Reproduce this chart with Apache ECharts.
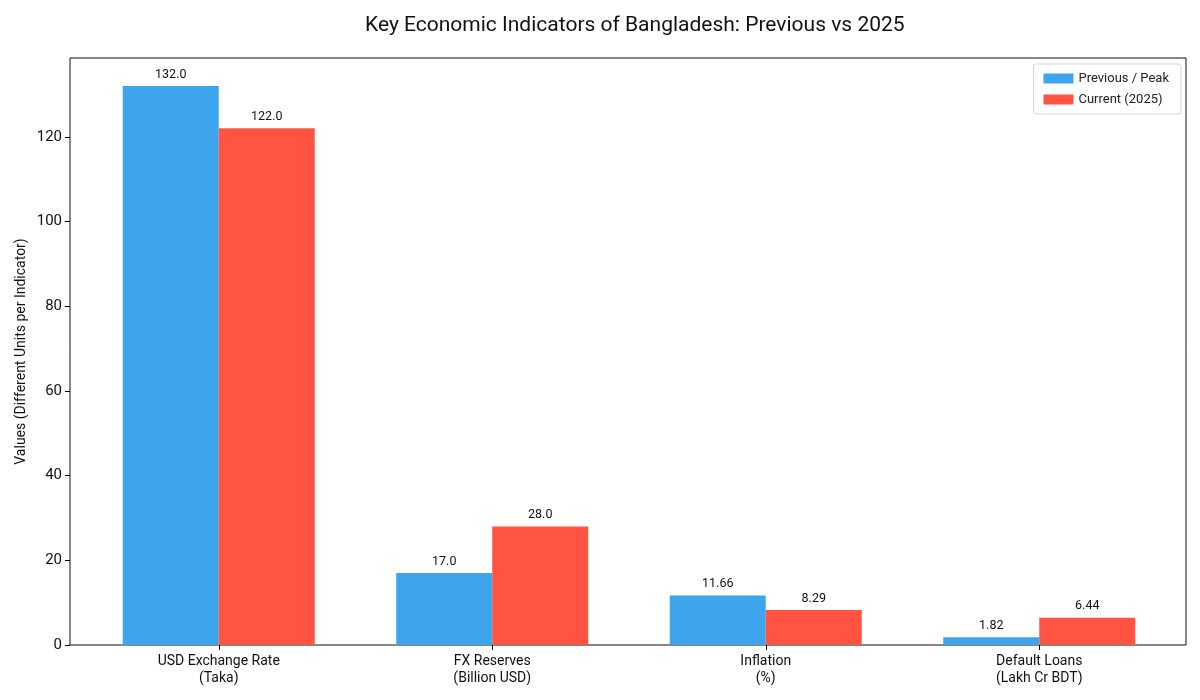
<!DOCTYPE html>
<html>
<head>
<meta charset="utf-8">
<script src="https://cdn.jsdelivr.net/npm/echarts@6/dist/echarts.min.js"></script>
<style>html,body{margin:0;padding:0;background:#fff;}#c{width:1200px;height:700px;}</style>
</head>
<body>
<div id="c"></div>
<script>
const categories = ['USD Exchange Rate\n(Taka)', 'FX Reserves\n(Billion USD)', 'Inflation\n(%)', 'Default Loans\n(Lakh Cr BDT)'];
const previousValues = [132.0, 17.0, 11.66, 1.82];
const currentValues = [122.0, 28.0, 8.29, 6.44];
const seriesNames = ['Previous / Peak', 'Current (2025)'];
const yTicks = [0, 20, 40, 60, 80, 100, 120];

const FONT = 'Roboto, "Open Sans", sans-serif';
const fmt = v => Number.isInteger(v) ? v.toFixed(1) : v.toFixed(2);
const yMax = 138.6;

const chart = echarts.init(document.getElementById('c'));
chart.setOption({
  backgroundColor: '#fff',
  animation: false,
  textStyle: { fontFamily: FONT },
  title: {
    text: 'Key Economic Indicators of Bangladesh: Previous vs 2025',
    left: 360, top: 10,
    textStyle: { fontFamily: FONT, fontSize: 21, fontWeight: 'normal', color: '#111' }
  },
  legend: {
    orient: 'vertical', right: 19, top: 64,
    itemWidth: 30, itemHeight: 10, itemGap: 8,
    padding: [8, 12, 8, 10],
    borderColor: '#d5d5d5', borderWidth: 1, borderRadius: 3,
    textStyle: { fontFamily: FONT, fontSize: 13, color: '#222' },
    data: seriesNames.map(n => ({ name: n, icon: 'rect' }))
  },
  grid: [
    { left: 70, right: 14, top: 58, bottom: 55, show: true, borderColor: '#111', borderWidth: 1, backgroundColor: 'transparent' },
    { left: 82, right: 24, top: 58, bottom: 55 }
  ],
  xAxis: [
    { gridIndex: 0, type: 'value', min: 0, max: 1, show: false },
    {
      gridIndex: 1, type: 'category', data: categories,
      axisLine: { show: false },
      axisTick: { show: true, alignWithLabel: true, length: 5, lineStyle: { color: '#000' } },
      axisLabel: { fontFamily: FONT, fontSize: 14, color: '#111', lineHeight: 17, margin: 8 }
    }
  ],
  yAxis: [
    {
      gridIndex: 0, type: 'value', min: 0, max: yMax,
      name: 'Values (Different Units per Indicator)', nameLocation: 'middle', nameGap: 42,
      nameMoveOverlap: false,
      nameTextStyle: { fontFamily: FONT, fontSize: 14, color: '#111' },
      axisLine: { show: false },
      axisTick: { show: true, length: 5, lineStyle: { color: '#000' }, customValues: yTicks },
      axisLabel: { fontFamily: FONT, fontSize: 15, color: '#111', margin: 8, customValues: yTicks },
      splitLine: { show: false }
    },
    { gridIndex: 1, type: 'value', min: 0, max: yMax, show: false, splitLine: { show: false } }
  ],
  series: [
    {
      name: seriesNames[0], type: 'bar', xAxisIndex: 1, yAxisIndex: 1,
      data: previousValues, barWidth: 96, barGap: '0%',
      itemStyle: { color: '#3ca5ee' },
      label: { show: true, position: 'top', distance: 5, fontFamily: FONT, fontSize: 12.5, color: '#111', formatter: p => fmt(p.value) }
    },
    {
      name: seriesNames[1], type: 'bar', xAxisIndex: 1, yAxisIndex: 1,
      data: currentValues, barWidth: 96, barGap: '0%',
      itemStyle: { color: '#ff5442' },
      label: { show: true, position: 'top', distance: 5, fontFamily: FONT, fontSize: 12.5, color: '#111', formatter: p => fmt(p.value) }
    }
  ]
});
</script>
</body>
</html>
